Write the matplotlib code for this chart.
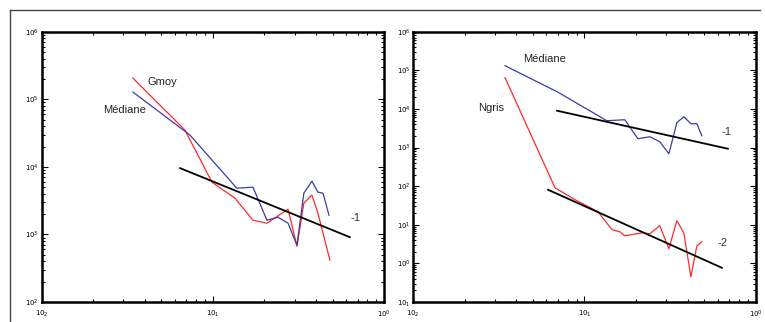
import matplotlib.pyplot as plt
from matplotlib.lines import Line2D
from matplotlib.ticker import LogLocator, NullFormatter, FixedLocator, FixedFormatter

plt.rcParams['font.family'] = ['Liberation Sans', 'DejaVu Sans']

# left panel: Gmoy and Médiane
gmoy_x = [0.0341, 0.0687, 0.0988, 0.1346, 0.1715, 0.207, 0.275, 0.310, 0.340, 0.379, 0.411, 0.483]
gmoy_y = [206000, 35000, 5930, 3436, 1622, 1466, 2362, 668, 2897, 3810, 2061, 415]
med1_x = [0.0341, 0.0735, 0.138, 0.1715, 0.207, 0.240, 0.275, 0.310, 0.340, 0.379, 0.411, 0.440, 0.477]
med1_y = [128000, 29500, 4830, 5000, 1622, 1799, 1466, 692, 4074, 6138, 4217, 4074, 1923]
fit1_x = [0.0643, 0.632]
fit1_y = [9570, 910]

# right panel: Médiane and Ngris
med2_x = [0.0344, 0.0692, 0.135, 0.172, 0.205, 0.241, 0.275, 0.311, 0.346, 0.380, 0.418, 0.453, 0.484]
med2_y = [131500, 27900, 4950, 5250, 1690, 1905, 1413, 690, 4390, 6280, 4140, 4140, 2020]
ngris_x = [0.0344, 0.0673, 0.0881, 0.120, 0.145, 0.161, 0.172, 0.219, 0.241, 0.275, 0.311, 0.346, 0.380,
           0.418, 0.453, 0.484]
ngris_y = [64300, 91, 44.5, 21.7, 7.41, 6.59, 5.19, 6.21, 5.85, 9.42, 2.39, 12.7, 6.21, 0.45, 2.86, 3.63]
fit2a_x = [0.0692, 0.687]
fit2a_y = [8980, 931]
fit2b_x = [0.0613, 0.634]
fit2b_y = [80.7, 0.769]

xticks = [1e-2, 1e-1, 1e0]
xlabels = [r'$10_2$', r'$10_1$', r'$10^0$']
yticks1 = [1e2, 1e3, 1e4, 1e5, 1e6]
ylabels1 = [r'$10^2$', r'$10^3$', r'$10^4$', r'$10^5$', r'$10^6$']
yticks2 = [1e-1, 1e0, 1e1, 1e2, 1e3, 1e4, 1e5, 1e6]
ylabels2 = [r'$10_1$', r'$10^0$', r'$10^1$', r'$10^2$', r'$10^3$', r'$10^4$', r'$10^5$', r'$10^6$']

red = '#ff2a2a'
blue = '#3b3ba8'

fig = plt.figure(figsize=(7.65, 3.22), dpi=100)
ax1 = fig.add_axes((0.0545, 0.0621, 0.4475, 0.8395))
ax2 = fig.add_axes((0.540, 0.0621, 0.448, 0.8395))


def style(ax, ylim, yt, yl):
    ax.set_xscale('log')
    ax.set_yscale('log')
    ax.set_xlim(1e-2, 1e0)
    ax.set_ylim(*ylim)
    ax.xaxis.set_major_locator(FixedLocator(xticks))
    ax.xaxis.set_major_formatter(FixedFormatter(xlabels))
    ax.yaxis.set_major_locator(FixedLocator(yt))
    ax.yaxis.set_major_formatter(FixedFormatter(yl))
    for a in (ax.xaxis, ax.yaxis):
        a.set_minor_locator(LogLocator(base=10, subs=range(2, 10), numticks=20))
        a.set_minor_formatter(NullFormatter())
    ax.tick_params(which='both', direction='in', top=True, right=True, width=0.8,
                   labelsize=5)
    ax.tick_params(axis='y', pad=2)
    ax.tick_params(axis='x', pad=5)
    ax.tick_params(which='major', length=4)
    ax.tick_params(which='minor', length=2)
    for s in ax.spines.values():
        s.set_linewidth(1.8)


style(ax1, (1e2, 1e6), yticks1, ylabels1)
style(ax2, (1e-1, 1e6), yticks2, ylabels2)

ax1.plot(gmoy_x, gmoy_y, color=red, lw=0.9)
ax1.plot(med1_x, med1_y, color=blue, lw=0.9)
ax1.plot(fit1_x, fit1_y, color='black', lw=1.3)
ax1.text(0.31, 0.815, 'Gmoy', transform=ax1.transAxes, fontsize=8, va='center', color='#222222')
ax1.text(0.179, 0.711, 'Médiane', transform=ax1.transAxes, fontsize=8, va='center', color='#222222')
ax1.text(0.901, 0.311, '-1', transform=ax1.transAxes, fontsize=8, va='center', color='#333333')

ax2.plot(med2_x, med2_y, color=blue, lw=0.9)
ax2.plot(ngris_x, ngris_y, color=red, lw=0.9)
ax2.plot(fit2a_x, fit2a_y, color='black', lw=1.3)
ax2.plot(fit2b_x, fit2b_y, color='black', lw=1.3)
ax2.text(0.321, 0.9, 'Médiane', transform=ax2.transAxes, fontsize=8, va='center', color='#222222')
ax2.text(0.19, 0.719, 'Ngris', transform=ax2.transAxes, fontsize=8, va='center', color='#222222')
ax2.text(0.901, 0.63, '-1', transform=ax2.transAxes, fontsize=8, va='center', color='#333333')
ax2.text(0.889, 0.219, '-2', transform=ax2.transAxes, fontsize=8, va='center', color='#333333')

# outer frame
fig.add_artist(Line2D([10 / 765, 10 / 765], [0, 1 - 10 / 322], color='#444444', lw=1))
fig.add_artist(Line2D([10 / 765, 760 / 765], [1 - 10 / 322, 1 - 10 / 322], color='#444444', lw=1))

fig.savefig('out.png', dpi=100)
